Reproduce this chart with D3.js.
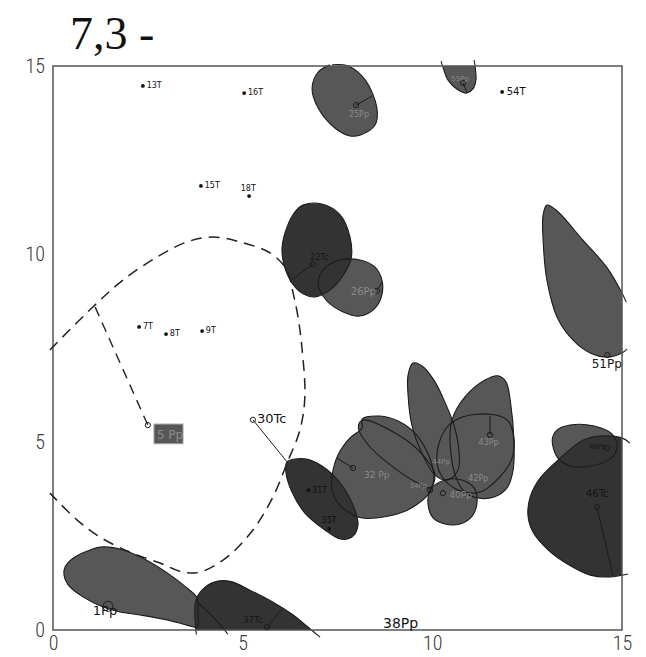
<!DOCTYPE html>
<html>
<head>
<meta charset="utf-8">
<script src="https://cdn.jsdelivr.net/npm/d3@7"></script>
<style>
  html, body { margin: 0; padding: 0; background: #fff; }
  svg { display: block; }
</style>
</head>
<body>
<svg id="map" width="646" height="657"></svg>
<script>
// ---- data (map units, 0..15 on both axes) ----
const titleText = "7,3 -";
const xTicks = [0, 5, 10, 15];
const yTicks = [0, 5, 10, 15];

// outlines of the occupied areas; "P" = medium tone, "T" = dark tone
const area25Pp = [[7.36,15.03],[7.78,15.0],[8.23,14.63],[8.54,13.88],[8.49,13.43],[8.09,13.16],[7.83,13.14],[7.43,13.35],[6.99,13.88],[6.83,14.41],[6.99,14.84],[7.3,15.03]];
const area55Pp = [[10.23,15.13],[10.28,14.97],[10.41,14.63],[10.68,14.36],[10.91,14.28],[11.07,14.39],[11.15,14.63],[11.13,14.97],[11.1,15.16]];
const area51Pp = [[15.13,7.47],[15.0,7.37],[14.61,7.26],[14.16,7.37],[13.71,7.71],[13.29,8.32],[13.02,9.31],[12.92,10.37],[12.92,11.04],[13.02,11.3],[13.26,11.17],[13.97,10.37],[14.61,9.63],[15.0,8.96],[15.11,8.72]];
const area26Pp = [[6.99,9.23],[7.17,9.63],[7.57,9.84],[8.09,9.84],[8.49,9.65],[8.67,9.31],[8.67,8.91],[8.49,8.56],[8.09,8.35],[7.65,8.46],[7.22,8.75]];
const area34Pp = [[8.15,5.58],[9.02,5.24],[9.68,4.73],[10.07,4.12],[9.94,3.78],[9.55,3.94],[8.89,4.39],[8.31,4.92],[8.05,5.37]];
const area32Pp = [[7.36,4.12],[7.51,4.65],[7.83,5.11],[8.15,5.37],[8.15,5.61],[8.62,5.69],[9.1,5.56],[9.46,5.32],[9.75,4.95],[9.97,4.47],[10.04,4.04],[9.94,3.67],[9.68,3.4],[9.28,3.16],[8.75,3.01],[8.15,2.98],[7.78,3.14],[7.49,3.4],[7.36,3.72]];
const area44Pp = [[9.49,7.1],[9.73,7.02],[10.07,6.6],[10.33,6.06],[10.57,5.45],[10.7,4.79],[10.68,4.26],[10.41,3.99],[10.07,4.12],[9.75,4.65],[9.46,5.45],[9.36,6.25],[9.36,6.78]];
const area42Pp = [[10.65,3.99],[10.47,4.92],[10.52,5.59],[10.86,6.2],[11.39,6.65],[11.73,6.76],[11.94,6.6],[12.07,5.98],[12.15,5.05],[12.13,4.26],[11.97,3.78],[11.63,3.54],[11.2,3.51],[10.86,3.67]];
const area43Pp = [[10.12,4.65],[10.33,5.32],[10.73,5.64],[11.52,5.74],[11.97,5.59],[12.15,5.11],[12.1,4.57],[11.78,4.07],[11.26,3.67],[10.68,3.72],[10.23,4.12]];
const area40Pp = [[9.94,3.72],[9.89,3.32],[10.02,2.98],[10.33,2.82],[10.73,2.82],[11.05,3.03],[11.18,3.4],[11.1,3.78],[10.78,3.99],[10.33,3.99]];
const area48Pp = [[13.16,5.05],[13.29,5.32],[13.63,5.45],[14.24,5.43],[14.74,5.21],[14.87,4.87],[14.69,4.55],[14.16,4.36],[13.63,4.36],[13.31,4.57]];
const area1Pp = [[0.32,1.68],[0.53,1.91],[0.98,2.13],[1.32,2.21],[1.85,2.13],[2.37,1.91],[3.01,1.52],[3.53,1.12],[3.8,0.85],[3.82,0.45],[3.8,0.08],[3.53,0.13],[3.01,0.27],[2.29,0.4],[1.77,0.48],[1.32,0.61],[0.79,0.88],[0.4,1.2],[0.29,1.46]];
const area22Tc = [[6.59,11.3],[7.09,11.33],[7.57,11.04],[7.83,10.45],[7.86,9.89],[7.62,9.39],[7.3,9.04],[6.91,8.86],[6.59,8.94],[6.3,9.23],[6.09,9.71],[6.04,10.19],[6.17,10.72],[6.38,11.12]];
const area31T = [[6.17,4.47],[6.64,4.55],[7.09,4.36],[7.57,3.91],[7.91,3.32],[8.04,2.79],[7.88,2.47],[7.57,2.42],[7.17,2.66],[6.64,3.11],[6.3,3.67],[6.14,4.2]];
const area46Tc = [[15.21,4.97],[15.0,5.11],[14.42,5.16],[13.97,5.05],[13.37,4.57],[12.84,4.04],[12.58,3.54],[12.52,3.06],[12.65,2.61],[13.05,2.13],[13.55,1.76],[14.16,1.46],[14.69,1.41],[15.0,1.46],[15.16,1.49]];
const area37Tc = [[3.78,-0.12],[3.77,0.8],[4.01,1.14],[4.35,1.3],[4.72,1.28],[5.19,1.06],[5.8,0.74],[6.33,0.4],[6.72,0.08],[7.04,-0.19]];

// drawing order: medium tones first, dark tones over them
const areaNames = ["25Pp","55Pp","51Pp","26Pp","34Pp","32Pp","44Pp","42Pp","43Pp","40Pp","48Pp","1Pp","22Tc","31T","46Tc","37Tc"];
const areaTone  = ["P","P","P","P","P","P","P","P","P","P","P","P","T","T","T","T"];
const areaOpen  = [true,true,true,false,false,false,false,false,false,false,false,false,false,false,true,true];
const areaPoints = [area25Pp,area55Pp,area51Pp,area26Pp,area34Pp,area32Pp,area44Pp,area42Pp,area43Pp,area40Pp,area48Pp,area1Pp,area22Tc,area31T,area46Tc,area37Tc];

// extra trace running through the 37Tc area
const trace37 = [[3.8,0.74],[4.22,0.35],[4.61,-0.11]];

// dashed boundary and its branch to 5Pp
const boundary = [[-0.08,7.45],[1.05,8.59],[1.85,9.31],[2.74,9.92],[3.53,10.32],[4.22,10.45],[4.93,10.32],[5.72,10.03],[6.17,9.57],[6.33,8.96],[6.46,8.32],[6.56,7.53],[6.64,6.2],[6.51,5.32],[6.17,4.44],[5.8,3.54],[5.27,2.66],[4.59,1.94],[3.88,1.54],[3.43,1.54],[2.82,1.78],[2.03,2.07],[1.24,2.47],[0.63,2.93],[-0.08,3.64]];
const branch = [[1.11,8.59],[2.5,5.45]];

// point sites (filled dots)
const dotNames = ["13T","16T","15T","18T","7T","8T","9T","54T","31T","35T"];
const dotX = [2.37,5.04,3.90,5.17,2.27,2.98,3.93,11.84,6.73,7.28];
const dotY = [14.47,14.28,11.81,11.54,8.06,7.87,7.95,14.31,3.72,2.69];
const dotLabelX = [2.47,5.14,4.0,4.95,2.37,3.08,4.03,11.96,6.83,7.08];
const dotLabelY = [14.41,14.22,11.75,11.68,8.0,7.81,7.89,14.23,3.64,2.85];

// sample sites (open circles) with leader lines
const siteNames = ["25Pp","55Pp","22Tc","26Pp","32Pp","34Pp","40Pp","43Pp","48Pp","46Tc","51Pp","1Pp","37Tc","30Tc","5Pp"];
const siteX  = [7.99,10.81,6.85,8.54,7.91,9.94,10.28,11.52,14.61,14.34,14.61,1.45,5.64,5.27,2.5];
const siteY  = [13.96,14.55,9.73,9.02,4.31,3.72,3.64,5.19,4.84,3.27,7.31,0.63,0.08,5.59,5.45];
const leadX2 = [8.41,10.91,6.30,8.67,7.49,null,null,11.52,null,14.76,null,null,6.04,6.17,null];
const leadY2 = [14.2,14.30,9.31,9.25,4.57,null,null,5.69,null,1.46,null,null,0.56,4.47,null];

// labels written on the map
const labelTexts = ["25Pp","55Pp","22Tc","26Pp","32 Pp","34Pp","44Pp","40Pp","42Pp","43Pp","48Pp","46Tc","51Pp","1Pp","37Tc","30Tc","38Pp"];
const labelX = [7.8,10.5,6.78,7.85,8.2,9.4,10.0,10.45,10.95,11.22,14.13,14.05,14.2,1.05,5.0,5.38,8.7];
const labelY = [13.65,14.6,9.84,8.9,4.04,3.78,4.42,3.5,3.97,4.92,4.82,3.55,6.97,0.4,0.19,5.5,0.05];

// 5Pp box
const boxX = [2.66,3.43];
const boxY = [4.95,5.48];
const boxText = "5 Pp";

// ---- drawing ----
const svg = d3.select("#map");
const x = d3.scaleLinear().domain([0,15]).range([53,622]);
const y = d3.scaleLinear().domain([0,15]).range([630,66]);

const toneFill = { P: "#575757", T: "#333333" };
const ink = "#1c1c1c";

svg.append("defs").append("clipPath").attr("id","frameClip")
  .append("rect").attr("x",x(0)).attr("y",y(15)).attr("width",x(15)-x(0)).attr("height",y(0)-y(15));

// title
svg.append("text").attr("x",70).attr("y",49)
  .attr("font-family","'Liberation Serif','Times New Roman',serif")
  .attr("font-size",46).attr("fill","#111").text(titleText);

const closedLine = d3.line().x(d=>x(d[0])).y(d=>y(d[1])).curve(d3.curveCatmullRomClosed.alpha(0.5));
const openLine = d3.line().x(d=>x(d[0])).y(d=>y(d[1])).curve(d3.curveCatmullRom.alpha(0.5));

const areas = areaNames.map((n,i)=>({name:n, tone:areaTone[i], open:areaOpen[i], pts:areaPoints[i]}));

// fills
svg.append("g").attr("clip-path","url(#frameClip)")
  .selectAll("path").data(areas).join("path")
  .attr("d", d => d.open ? openLine(d.pts) + "Z" : closedLine(d.pts))
  .attr("fill", d => toneFill[d.tone]);

// outlines on top of every fill
const outl = svg.append("g").attr("fill","none").attr("stroke",ink).attr("stroke-width",1.1);
outl.selectAll("path").data(areas).join("path")
  .attr("d", d => d.open ? openLine(d.pts) : closedLine(d.pts));
outl.append("path").attr("d", openLine(trace37));

// frame
svg.append("rect").attr("x",x(0)).attr("y",y(15)).attr("width",x(15)-x(0)).attr("height",y(0)-y(15))
  .attr("fill","none").attr("stroke","#555").attr("stroke-width",1.5);

// axes (labels only)
const axisFont = "'Liberation Sans Narrow','Roboto Condensed','DejaVu Sans Condensed',sans-serif";
const gx = svg.append("g").attr("transform",`translate(0,${y(0)})`)
  .call(d3.axisBottom(x).tickValues(xTicks).tickSize(0).tickPadding(6).tickFormat(d3.format("d")));
const gy = svg.append("g").attr("transform",`translate(${x(0)},0)`)
  .call(d3.axisLeft(y).tickValues(yTicks).tickSize(0).tickPadding(8).tickFormat(d3.format("d")));
[gx,gy].forEach(g => {
  g.select(".domain").remove();
  g.selectAll("text").attr("font-family",axisFont).attr("font-size",20).attr("font-weight",300).attr("fill","#3a3a3a");
});

// dashed boundary
svg.append("path").attr("d", openLine(boundary))
  .attr("fill","none").attr("stroke","#222").attr("stroke-width",1.5).attr("stroke-dasharray","11,7");
svg.append("path").attr("d", d3.line().x(d=>x(d[0])).y(d=>y(d[1]))(branch))
  .attr("fill","none").attr("stroke","#222").attr("stroke-width",1.4).attr("stroke-dasharray","10,7");

// 5Pp box
svg.append("rect").attr("x",x(boxX[0])).attr("y",y(boxY[1]))
  .attr("width",x(boxX[1])-x(boxX[0])).attr("height",y(boxY[0])-y(boxY[1]))
  .attr("fill","#575757").attr("stroke","#bbb").attr("stroke-width",1);
svg.append("text").attr("x",x(boxX[0])+3).attr("y",y(boxY[0])-5)
  .attr("font-family","'DejaVu Sans',sans-serif").attr("font-size",12).attr("fill","#8c8c8c").text(boxText);

// leader lines and open circles
const sites = siteNames.map((n,i)=>({name:n,x:siteX[i],y:siteY[i],x2:leadX2[i],y2:leadY2[i]}));
svg.append("g").attr("stroke",ink).attr("stroke-width",1)
  .selectAll("line").data(sites.filter(d=>d.x2!==null)).join("line")
  .attr("x1",d=>x(d.x)).attr("y1",d=>y(d.y)).attr("x2",d=>x(d.x2)).attr("y2",d=>y(d.y2));
svg.append("g").attr("fill","none").attr("stroke",ink).attr("stroke-width",1)
  .selectAll("circle").data(sites).join("circle")
  .attr("cx",d=>x(d.x)).attr("cy",d=>y(d.y))
  .attr("r",d=> d.name==="1Pp" ? 5 : 2.6);

// filled dots
const dots = dotNames.map((n,i)=>({name:n,x:dotX[i],y:dotY[i],lx:dotLabelX[i],ly:dotLabelY[i]}));
svg.append("g").selectAll("circle").data(dots).join("circle")
  .attr("cx",d=>x(d.x)).attr("cy",d=>y(d.y)).attr("r",1.9).attr("fill","#111");
svg.append("g").selectAll("text").data(dots).join("text")
  .attr("x",d=>x(d.lx)).attr("y",d=>y(d.ly))
  .attr("font-family","'DejaVu Sans',sans-serif")
  .attr("font-size",d=> d.name==="54T" ? 10 : 8)
  .attr("fill","#111").text(d=>d.name);

// map labels
const labelSize = {"25Pp":8,"55Pp":7,"22Tc":8,"26Pp":10,"32 Pp":9,"34Pp":7,"44Pp":7,"40Pp":9,"42Pp":8,"43Pp":8,"48Pp":7,"46Tc":10,"51Pp":12,"1Pp":13,"37Tc":9,"30Tc":13,"38Pp":14};
const onMedium = new Set(["25Pp","55Pp","26Pp","32 Pp","34Pp","44Pp","40Pp","42Pp","43Pp"]);
svg.append("g").selectAll("text").data(labelTexts.map((t,i)=>({t,x:labelX[i],y:labelY[i]}))).join("text")
  .attr("x",d=>x(d.x)).attr("y",d=>y(d.y))
  .attr("font-family","'DejaVu Sans',sans-serif")
  .attr("font-size",d=>labelSize[d.t])
  .attr("fill",d=> onMedium.has(d.t) ? "#8a8a8a" : "#151515")
  .text(d=>d.t);
</script>
</body>
</html>
